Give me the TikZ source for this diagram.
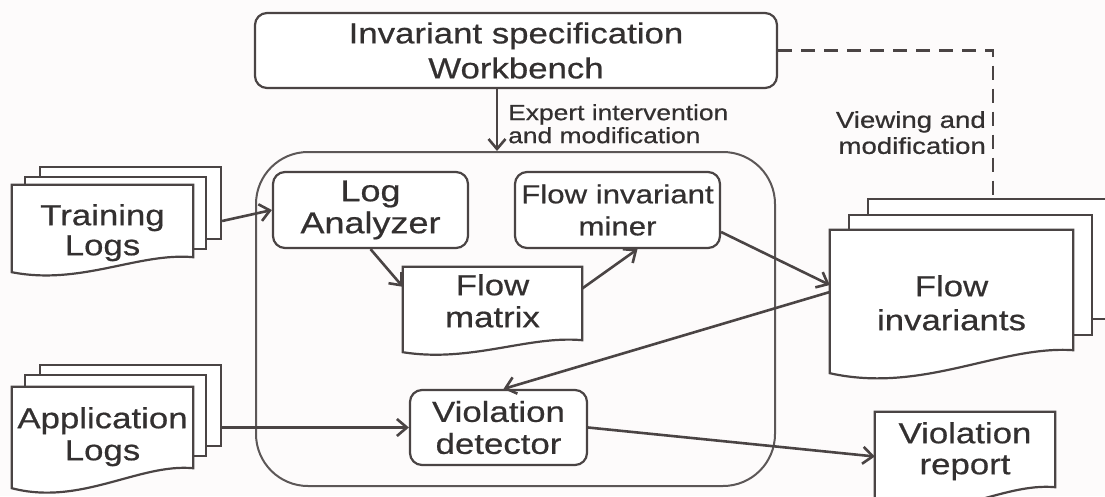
\documentclass[tikz,border=0pt]{standalone}
\usepackage{fontspec}
\setmainfont{Liberation Sans}[FakeStretch=1.2,FakeBold=0.6]
\usetikzlibrary{arrows.meta,calc}

\definecolor{ink}{HTML}{333030}
\definecolor{edge}{HTML}{4A4444}
\definecolor{paper}{HTML}{FDFBFB}

% document sheet with a wavy lower edge, drawn over the anchors of a frame node
\newcommand\docoutline[2]{%
  \filldraw[sheet] ([yshift=-#2pt]#1.south west) -- (#1.north west) -- (#1.north east) -- (#1.south east)
    .. controls ($(#1.south east)!0.3!(#1.south west)+(0,-5)$)
    and ($(#1.south east)!0.62!(#1.south west)+(0,1.9*#2)$) .. ([yshift=-#2pt]#1.south west) -- cycle;}

\tikzset{
  sheet/.style={draw=edge, fill=white, line width=2.2pt},
  page/.style={sheet, rectangle, inner sep=0pt},
  frame/.style={rectangle, inner sep=0pt, draw=none},
  rbox/.style={draw=edge, fill=white, line width=2.2pt, rounded corners=12pt,
    rectangle, inner sep=0pt, align=center, text=ink},
  core/.style={draw=edge!90, line width=2pt, rounded corners=52pt, rectangle, inner sep=0pt},
  doctext/.style={text=ink, align=center, inner sep=0pt, anchor=north},
  lbl/.style={text=ink, inner sep=0pt},
  conn/.style={draw=edge, line width=2.6pt,
    -{Straight Barb[length=10pt,width=17pt,line width=2.6pt]}},
  dashline/.style={draw=edge, line width=2.8pt, dash pattern=on 14pt off 9pt},
}

\begin{document}
\begin{tikzpicture}[x=1pt,y=-1pt]
\fill[paper] (0,0) rectangle (1105,496);
\useasboundingbox (0,0) rectangle (1105,496);
\clip (0,0) rectangle (1105,496);

% processing core
\node[core, minimum width=519, minimum height=334] (core) at (515.5,319) {};

% workbench
\node[rbox, minimum width=522, minimum height=75, font=\fontsize{29}{35}\selectfont]
  (wb) at (516,50.5) {Invariant specification\\Workbench};

% inner stages
\node[rbox, minimum width=195, minimum height=76, font=\fontsize{30}{32}\selectfont]
  (la) at (370.5,210) {Log\\Analyzer};
\node[rbox, minimum width=205, minimum height=76, font=\fontsize{26}{32}\selectfont]
  (fim) at (617.5,210) {Flow invariant\\miner};
\node[rbox, minimum width=177, minimum height=75, font=\fontsize{29}{32}\selectfont]
  (vd) at (498.5,427.5) {Violation\\detector};

% flow matrix
\node[frame, minimum width=179, minimum height=73] (fmF) at (492.5,303.5) {};
\docoutline{fmF}{12}
\node[doctext, font=\fontsize{29}{32}\selectfont] (fm) at (492.5,274) {Flow\\matrix};

% training logs stack
\node[page, minimum width=181, minimum height=72] (trC) at (130.5,203) {};
\node[page, minimum width=181, minimum height=72] (trB) at (115.5,213) {};
\node[frame, minimum width=181, minimum height=72] (trA) at (102.5,221) {};
\docoutline{trA}{15}
\node[doctext, font=\fontsize{29}{30}\selectfont] (tr) at (102.5,204) {Training\\Logs};

% application logs stack
\node[page, minimum width=181, minimum height=81] (apC) at (130.5,405.5) {};
\node[page, minimum width=181, minimum height=81] (apB) at (115.5,415.5) {};
\node[frame, minimum width=181, minimum height=81] (apA) at (102.5,427.5) {};
\docoutline{apA}{20}
\node[doctext, font=\fontsize{29}{32}\selectfont] (ap) at (102.5,407) {Application\\Logs};

% flow invariants stack
\node[page, minimum width=243, minimum height=120] (fiC) at (989.5,259) {};
\node[page, minimum width=243, minimum height=120] (fiB) at (970.5,275) {};
\node[frame, minimum width=243, minimum height=120] (fiA) at (951.5,290) {};
\docoutline{fiA}{23}
\node[doctext, font=\fontsize{29}{34}\selectfont] (fi) at (951.5,275) {Flow\\invariants};

% violation report
\node[frame, minimum width=180, minimum height=75] (vrF) at (965,449.5) {};
\docoutline{vrF}{20}
\node[doctext, font=\fontsize{29}{31}\selectfont] (vr) at (965,422) {Violation\\report};

% labels
\node[lbl, anchor=north west, align=left, font=\fontsize{22}{23}\selectfont]
  (expert) at (508,104) {Expert intervention\\and modification};
\node[lbl, anchor=north east, align=right, font=\fontsize{23}{26}\selectfont]
  (viewing) at (986,111) {Viewing and\\modification};

% connectors
\draw[conn] ([xshift=-19pt]wb.south) -- ([xshift=-19pt]wb.south |- core.north);
\draw[conn] ([yshift=-18pt]trC.east) -- (la.west);
\draw[conn] (la.south) -- ([yshift=-20pt]fmF.north west);
\draw[conn] ([yshift=15pt]fmF.east) -- ([xshift=20pt]fim.south);
\draw[conn] ([yshift=-22pt]fim.east) -- ([yshift=5pt]fiA.west);
\draw[conn] ([yshift=-2pt]fiA.west) -- ([xshift=5pt]vd.north);
\draw[conn] (vd.west -| apC.east) -- (vd.west);
\draw[conn] (vd.east) -- ([yshift=-7pt]vrF.west);

\coordinate (dturn) at (993,50.5);
\draw[dashline] (wb.east) -- (dturn) -- (dturn |- fiC.north);
\end{tikzpicture}
\end{document}
